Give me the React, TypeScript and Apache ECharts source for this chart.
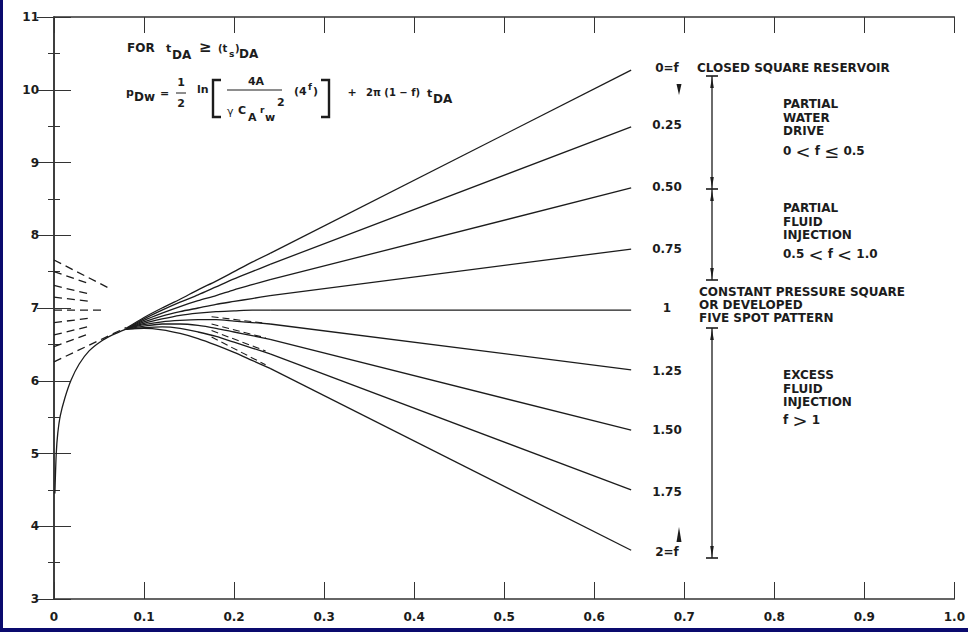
import React, { useEffect, useRef } from 'react';
import * as echarts from 'echarts';

// ---------- data ----------
const xTicks = [0, 0.1, 0.2, 0.3, 0.4, 0.5, 0.6, 0.7, 0.8, 0.9, 1.0];
const yTicks = [3, 4, 5, 6, 7, 8, 9, 10, 11];

const fractionLabels = ['0=f', '0.25', '0.50', '0.75', '1', '1.25', '1.50', '1.75', '2=f'];

// common infinite-acting early-time curve
const earlyX = [0.001, 0.0025, 0.0042, 0.007, 0.012, 0.019, 0.028, 0.039, 0.052, 0.065, 0.08];
const earlyY = [4.45, 5.0, 5.28, 5.52, 5.76, 6.01, 6.23, 6.41, 6.54, 6.63, 6.71];

// transition (curved) part of each branch, f = 0, 0.25, 0.5, 0.75, 1, 1.25, 1.5, 1.75, 2
const branchX = [0.08, 0.1, 0.12, 0.14, 0.16, 0.18, 0.2, 0.22, 0.24];
const branchF0 = [6.72, 6.87, 7.0, 7.12, 7.25, 7.37, 7.5, 7.63, 7.75];
const branchF025 = [6.71, 6.85, 6.97, 7.08, 7.18, 7.29, 7.4, 7.5, 7.6];
const branchF050 = [6.71, 6.83, 6.93, 7.02, 7.1, 7.17, 7.25, 7.32, 7.39];
const branchF075 = [6.71, 6.81, 6.89, 6.95, 7.0, 7.05, 7.09, 7.13, 7.17];
const branchF100 = [6.71, 6.79, 6.85, 6.9, 6.93, 6.95, 6.96, 6.97, 6.97];
const branchF125 = [6.71, 6.77, 6.81, 6.83, 6.84, 6.84, 6.82, 6.8, 6.78];
const branchF150 = [6.71, 6.75, 6.78, 6.78, 6.76, 6.72, 6.67, 6.62, 6.57];
const branchF175 = [6.71, 6.73, 6.74, 6.72, 6.67, 6.61, 6.53, 6.45, 6.37];
const branchF200 = [6.71, 6.72, 6.7, 6.65, 6.58, 6.49, 6.39, 6.28, 6.17];
const branches = [branchF0, branchF025, branchF050, branchF075, branchF100, branchF125, branchF150, branchF175, branchF200];

// straight late-time part: from tDA = 0.24 to the end of each line
const lineEndX = 0.641;
const lineEndY = [10.27, 9.49, 8.65, 7.81, 6.97, 6.15, 5.32, 4.5, 3.67];

// dashed extrapolations at early time (from tDA = 0)
const dashStartY = [6.26, 6.47, 6.63, 6.8, 6.97, 7.15, 7.31, 7.5, 7.66];
const dashEndX = [0.08, 0.04, 0.04, 0.04, 0.056, 0.04, 0.04, 0.04, 0.06];
const dashEndY = [6.73, 6.65, 6.75, 6.86, 6.97, 7.09, 7.19, 7.33, 7.28];

// short dashed asymptotes for f = 1.25 .. 2
const midDashX = [0.175, 0.235];
const midDashY = [
  [6.88, 6.79],
  [6.78, 6.59],
  [6.69, 6.41],
  [6.6, 6.22],
];

// ---------- styling helpers ----------
const FONT = '"DejaVu Sans", "Liberation Sans", Arial, sans-serif';
const INK = '#1c1c1c';

function txt(x: number, y: number, text: string, o: any = {}) {
  return {
    type: 'text',
    x,
    y,
    silent: true,
    z: 20,
    style: {
      text,
      fill: INK,
      fontFamily: FONT,
      fontWeight: o.weight ?? 'bold',
      fontSize: o.size ?? 12,
      align: o.align ?? 'left',
      textAlign: o.align ?? 'left',
      verticalAlign: 'middle',
      textVerticalAlign: 'middle',
      rich: o.rich,
    },
  };
}
function ln(x1: number, y1: number, x2: number, y2: number, w = 1.2) {
  return { type: 'line', silent: true, z: 20, shape: { x1, y1, x2, y2 }, style: { stroke: INK, lineWidth: w } };
}
function tri(points: number[][]) {
  return { type: 'polygon', silent: true, z: 20, shape: { points }, style: { fill: INK } };
}
function pl(points: number[][], w = 2) {
  return { type: 'polyline', silent: true, z: 20, shape: { points }, style: { stroke: INK, lineWidth: w, fill: null } };
}

export default function App() {
  const ref = useRef<HTMLDivElement>(null);
  useEffect(() => {
    if (!ref.current) return;
    const chart = echarts.init(ref.current, undefined, { renderer: 'svg' });

    const lineStyle = { color: INK, width: 1.3 };
    const base = { type: 'line', showSymbol: false, symbol: 'none', silent: true };
    const series: any[] = [];
    series.push({
      ...base,
      data: earlyX.map((x, i) => [x, earlyY[i]]),
      smooth: 0.3,
      lineStyle,
    });
    branches.forEach((ys, k) => {
      series.push({
        ...base,
        data: branchX.map((x, i) => [x, ys[i]]),
        smooth: 0.25,
        lineStyle,
      });
      series.push({
        ...base,
        data: [
          [branchX[branchX.length - 1], ys[ys.length - 1]],
          [lineEndX, lineEndY[k]],
        ],
        lineStyle,
      });
    });
    dashStartY.forEach((y0, i) => {
      series.push({
        ...base,
        data: [
          [0, y0],
          [dashEndX[i], dashEndY[i]],
        ],
        lineStyle: { color: INK, width: 1.3, type: [8, 5] },
      });
    });
    midDashY.forEach((ys) => {
      series.push({
        ...base,
        data: midDashX.map((x, i) => [x, ys[i]]),
        lineStyle: { color: INK, width: 1.1, type: [7, 4] },
      });
    });

    const labelY = [68, 125, 187, 249, 308, 371, 430, 492, 552];
    const graphics: any[] = [];
    // navy frame of the scan
    graphics.push({ type: 'rect', silent: true, z: 30, shape: { x: 0, y: 0, width: 3, height: 632 }, style: { fill: '#0a0a6e' } });
    graphics.push({ type: 'rect', silent: true, z: 30, shape: { x: 0, y: 628, width: 968, height: 4 }, style: { fill: '#0a0a6e' } });

    // formula line 1
    graphics.push(txt(127, 48, 'FOR'));
    graphics.push(txt(166, 48, 't', { size: 11 }));
    graphics.push(txt(172, 55, 'DA'));
    graphics.push(txt(199, 47, '≥', { size: 15 }));
    graphics.push(txt(218, 48, '(t', { size: 10 }));
    graphics.push(txt(229, 54, 's', { size: 9 }));
    graphics.push(txt(235, 48, ')', { size: 10 }));
    graphics.push(txt(239, 54, 'DA'));
    // formula line 2
    graphics.push(txt(126, 92, 'p', { size: 11 }));
    graphics.push(txt(134, 97, 'Dw'));
    graphics.push(txt(160, 93, '=', { size: 11 }));
    graphics.push(txt(181, 82, '1', { size: 11, align: 'center' }));
    graphics.push(ln(176, 93, 186, 93, 1));
    graphics.push(txt(181, 103, '2', { size: 11, align: 'center' }));
    graphics.push(txt(197, 89, 'ln', { size: 11 }));
    graphics.push(pl([[221, 80], [213, 80], [213, 117], [221, 117]], 2.4));
    graphics.push(txt(256, 81, '4A', { size: 11, align: 'center' }));
    graphics.push(ln(227, 90, 282, 90, 1));
    graphics.push(txt(227, 111, 'γ', { size: 11, weight: 'normal' }));
    graphics.push(txt(238, 110, 'C', { size: 11 }));
    graphics.push(txt(248, 117, 'A', { size: 11 }));
    graphics.push(txt(260, 110, 'r', { size: 9 }));
    graphics.push(txt(265, 117, 'w', { size: 11 }));
    graphics.push(txt(277, 102, '2', { size: 11 }));
    graphics.push(txt(294, 91, '(4', { size: 11 }));
    graphics.push(txt(308, 87, 'f', { size: 9 }));
    graphics.push(txt(313, 91, ')', { size: 11 }));
    graphics.push(pl([[321, 80], [329, 80], [329, 117], [321, 117]], 2.4));
    graphics.push(txt(352, 92, '+', { size: 11, align: 'center' }));
    graphics.push(txt(366, 92, '2π (1 − f)', { size: 10 }));
    graphics.push(txt(427, 93, 't', { size: 11 }));
    graphics.push(txt(433, 99, 'DA'));

    // right-hand curve labels
    fractionLabels.forEach((s, i) => graphics.push(txt(667, labelY[i], s, { align: 'center' })));
    graphics.push(tri([[676.5, 84], [681.5, 84], [679, 95]]));
    graphics.push(tri([[679, 527], [676.5, 542], [681.5, 542]]));

    // dimension lines
    const dx = 712;
    graphics.push(ln(dx, 76, dx, 280, 1.3));
    graphics.push(ln(706, 76, 718, 76, 1.6));
    graphics.push(ln(706, 189, 718, 189, 1.6));
    graphics.push(ln(706, 280, 718, 280, 1.6));
    graphics.push(tri([[dx, 77], [dx - 1.8, 88], [dx + 1.8, 88]]));
    graphics.push(tri([[dx, 188], [dx - 1.8, 177], [dx + 1.8, 177]]));
    graphics.push(tri([[dx, 190], [dx - 1.8, 201], [dx + 1.8, 201]]));
    graphics.push(tri([[dx, 279], [dx - 1.8, 268], [dx + 1.8, 268]]));
    graphics.push(ln(dx, 328, dx, 558, 1.3));
    graphics.push(ln(706, 328, 718, 328, 1.6));
    graphics.push(ln(706, 558, 718, 558, 1.6));
    graphics.push(tri([[dx, 329], [dx - 1.8, 340], [dx + 1.8, 340]]));
    graphics.push(tri([[dx, 557], [dx - 1.8, 546], [dx + 1.8, 546]]));

    // region texts
    graphics.push(txt(697, 68, 'CLOSED SQUARE RESERVOIR'));
    graphics.push(txt(783, 104, 'PARTIAL'));
    graphics.push(txt(783, 117.5, 'WATER'));
    graphics.push(txt(783, 131, 'DRIVE'));
    const rich = { L: { fontSize: 18, fontWeight: 'normal', fontFamily: FONT, fill: INK } };
    graphics.push(txt(783, 151, '0 {L|<} f {L|≤} 0.5', { rich }));
    graphics.push(txt(783, 207.5, 'PARTIAL'));
    graphics.push(txt(783, 221.5, 'FLUID'));
    graphics.push(txt(783, 235, 'INJECTION'));
    graphics.push(txt(783, 254, '0.5 {L|<} f {L|<} 1.0', { rich }));
    graphics.push(txt(699, 291.5, 'CONSTANT PRESSURE SQUARE'));
    graphics.push(txt(699, 304.5, 'OR DEVELOPED'));
    graphics.push(txt(699, 318, 'FIVE SPOT PATTERN'));
    graphics.push(txt(783, 375, 'EXCESS'));
    graphics.push(txt(783, 389, 'FLUID'));
    graphics.push(txt(783, 402, 'INJECTION'));
    graphics.push(txt(783, 420, 'f {L|>} 1', { rich }));

    const axisLine = { show: true, lineStyle: { color: '#333', width: 1.5 } };
    const labelStyle = { fontFamily: FONT, fontWeight: 'bold', fontSize: 12, color: INK };

    chart.setOption({
      animation: false,
      backgroundColor: '#ffffff',
      grid: { left: 54, right: 8, top: 17, bottom: 33, containLabel: false },
      xAxis: [
        {
          type: 'value',
          min: xTicks[0],
          max: xTicks[xTicks.length - 1],
          interval: 0.1,
          position: 'bottom',
          axisLine,
          axisTick: { show: true, inside: true, length: 17, lineStyle: { color: '#333', width: 1 } },
          axisLabel: {
            ...labelStyle,
            margin: 12,
            formatter: (v: number) => (Math.abs(v) < 1e-9 ? '0' : v.toFixed(1)),
          },
          splitLine: { show: false },
        },
        {
          type: 'value',
          min: xTicks[0],
          max: xTicks[xTicks.length - 1],
          interval: 0.1,
          position: 'top',
          axisLine,
          axisTick: { show: true, inside: true, length: 16, lineStyle: { color: '#333', width: 1 } },
          axisLabel: { show: false },
          splitLine: { show: false },
        },
      ],
      yAxis: [
        {
          type: 'value',
          min: yTicks[0],
          max: yTicks[yTicks.length - 1],
          interval: 1,
          position: 'left',
          axisLine,
          axisTick: { show: true, inside: true, length: 17, lineStyle: { color: '#333', width: 1 } },
          minorTick: { show: true, splitNumber: 2, length: 6, lineStyle: { color: '#333', width: 1 } },
          axisLabel: { ...labelStyle, margin: 15 },
          splitLine: { show: false },
          minorSplitLine: { show: false },
        },
        {
          type: 'value',
          min: yTicks[0],
          max: yTicks[yTicks.length - 1],
          interval: 1,
          position: 'right',
          axisLine,
          axisTick: { show: true, inside: true, length: 17, lineStyle: { color: '#333', width: 1 } },
          minorTick: { show: true, splitNumber: 2, length: 6, lineStyle: { color: '#333', width: 1 } },
          axisLabel: { show: false },
          splitLine: { show: false },
          minorSplitLine: { show: false },
        },
      ],
      series,
      graphic: { elements: graphics },
    });
    return () => chart.dispose();
  }, []);
  return (
    <div
      ref={ref}
      style={{ position: 'fixed', left: 0, top: 0, width: 968, height: 632, background: '#fff' }}
    />
  );
}
